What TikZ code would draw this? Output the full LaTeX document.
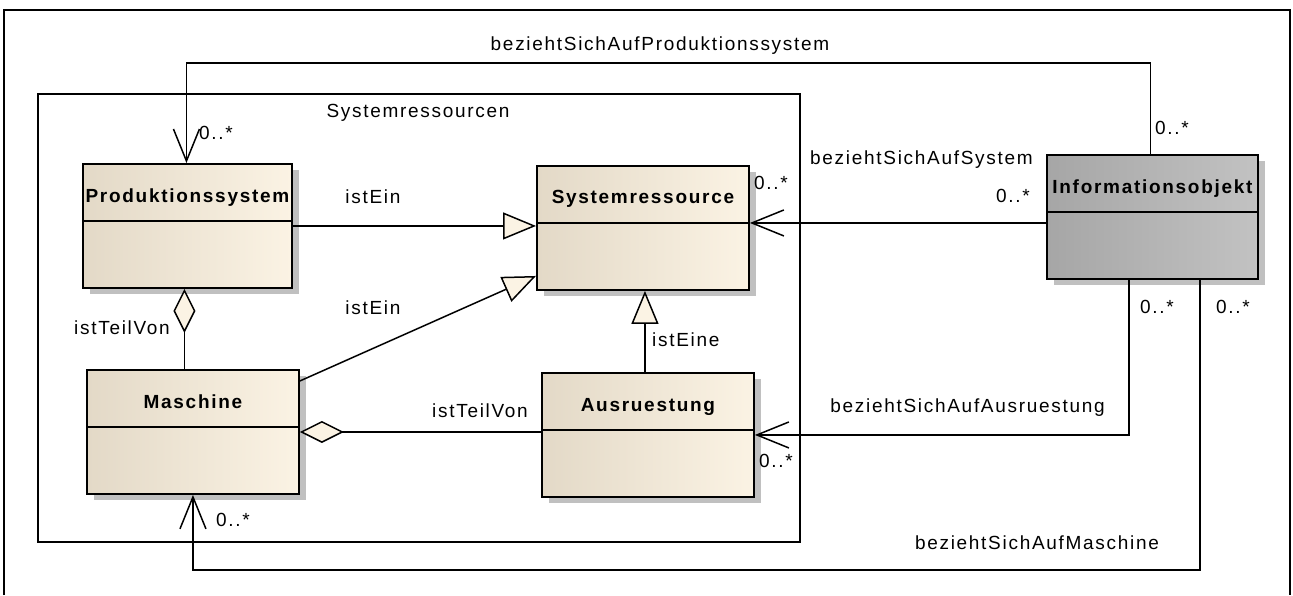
\documentclass[tikz,border=0pt]{standalone}
\usepackage{fontspec}
\setmainfont{Liberation Sans}[LetterSpace=9]
\usetikzlibrary{arrows.meta,shadows}

\definecolor{clsL}{HTML}{E3D9C7}
\definecolor{clsR}{HTML}{FBF3E4}
\definecolor{infL}{HTML}{A6A6A6}
\definecolor{infR}{HTML}{C2C2C2}
\definecolor{shadowgray}{HTML}{C0C0C0}

\tikzset{
  txt/.style={font=\fontsize{19}{22}\selectfont, inner sep=0pt},
  clsname/.style={font=\fontsize{19}{22}\selectfont\bfseries, inner sep=0pt, anchor=base},
  classbox/.style={draw=black, line width=1.9pt, minimum height=124pt, inner sep=0pt,
    anchor=north west, left color=clsL, middle color=clsR, right color=clsR,
    drop shadow={shadow xshift=7pt, shadow yshift=-6pt, fill=shadowgray, opacity=1}},
  infobox/.style={classbox, left color=infL, middle color=infR, right color=infR},
  divider/.style={line width=1.8pt},
  conn/.style={line width=1.5pt, draw=black},
  gen/.style={conn, -{Triangle[length=33pt,width=27pt,fill=clsR]}},
  nav/.style={conn, -{Straight Barb[length=32pt,width=26pt]}},
  aggr/.style={conn, {Diamond[length=44pt,width=22pt,fill=clsR]}-},
  frameline/.style={line width=1.9pt}
}

\begin{document}
\begin{tikzpicture}[x=1pt,y=-1pt]
\useasboundingbox (0,0) rectangle (1293,595);

% outer diagram frame
\draw[frameline] (4,595) -- (4,10) -- (1290,10) -- (1290,595);

% package Systemressourcen
\draw[line width=1.7pt] (38,94) rectangle (800,542);
\node[txt] (pkgname) at (418,113) {Systemressourcen};

% classes
\node[classbox, minimum width=209pt] (ps) at (82,163) {};
\node[classbox, minimum width=212pt] (sr) at (536,165) {};
\node[infobox,  minimum width=211pt] (io) at (1046,154) {};
\node[classbox, minimum width=212pt] (ma) at (86,369) {};
\node[classbox, minimum width=212pt] (au) at (541,372) {};

\foreach \c in {ps,sr,io,ma,au}{
  \draw[divider] ([yshift=-58pt]\c.north west) -- ([yshift=-58pt]\c.north east);
}

\node[clsname] (psname) at ([yshift=-39pt]ps.north) {Produktionssystem};
\node[clsname] (srname) at ([yshift=-38pt]sr.north) {Systemressource};
\node[clsname] (ioname) at ([yshift=-39pt]io.north) {Informationsobjekt};
\node[clsname] (maname) at ([yshift=-39pt]ma.north) {Maschine};
\node[clsname] (auname) at ([yshift=-39pt]au.north) {Ausruestung};

% generalisations
\draw[gen] (ps.east) -- (ps.east -| sr.west);
\draw[gen] ([yshift=51pt]ma.east) -- ([yshift=-48pt]sr.west);
\draw[gen] ([xshift=-3pt]au.north) -- ([xshift=-3pt]au.north |- sr.south);
\node[txt] (l1) at (373,197) {istEin};
\node[txt] (l2) at (373,308) {istEin};
\node[txt, anchor=west] (l3) at (652,340) {istEine};

% aggregations
\draw[aggr] ([xshift=-3pt]ps.south) -- ([xshift=-3pt]ps.south |- ma.north);
\draw[aggr] (ma.east) -- (ma.east -| au.west);
\node[txt, anchor=east] (l4) at (170,328) {istTeilVon};
\node[txt] (l5) at (480,411) {istTeilVon};

% associations from Informationsobjekt
\draw[nav] ([xshift=-2pt]io.north) -- ++(0,-91) -| ([xshift=-1pt]ps.north);
\node[txt] (a1) at (660,46) {beziehtSichAufProduktionssystem};
\node[txt, anchor=west] (m1) at (1155,128) {0..*};
\node[txt, anchor=west] (m2) at (199,133) {0..*};

\draw[nav] ([yshift=-6pt]io.west) -- ([yshift=-6pt]io.west -| sr.east);
\node[txt, anchor=west] (a2) at (810,160) {beziehtSichAufSystem};
\node[txt, anchor=west] (m3) at (754,183) {0..*};
\node[txt, anchor=east] (m4) at (1030,196) {0..*};

\draw[nav] ([xshift=-23.5pt]io.south) |- (au.east);
\node[txt, anchor=east] (a3) at (1105,408) {beziehtSichAufAusruestung};
\node[txt, anchor=west] (m5) at (1140,307) {0..*};
\node[txt, anchor=west] (m6) at (759,461) {0..*};

\draw[nav] ([xshift=47.5pt]io.south) -- ++(0,290) -| (ma.south);
\node[txt] (a4) at (1037,543) {beziehtSichAufMaschine};
\node[txt, anchor=west] (m7) at (1216,307) {0..*};
\node[txt, anchor=west] (m8) at (216,520) {0..*};
\end{tikzpicture}
\end{document}
